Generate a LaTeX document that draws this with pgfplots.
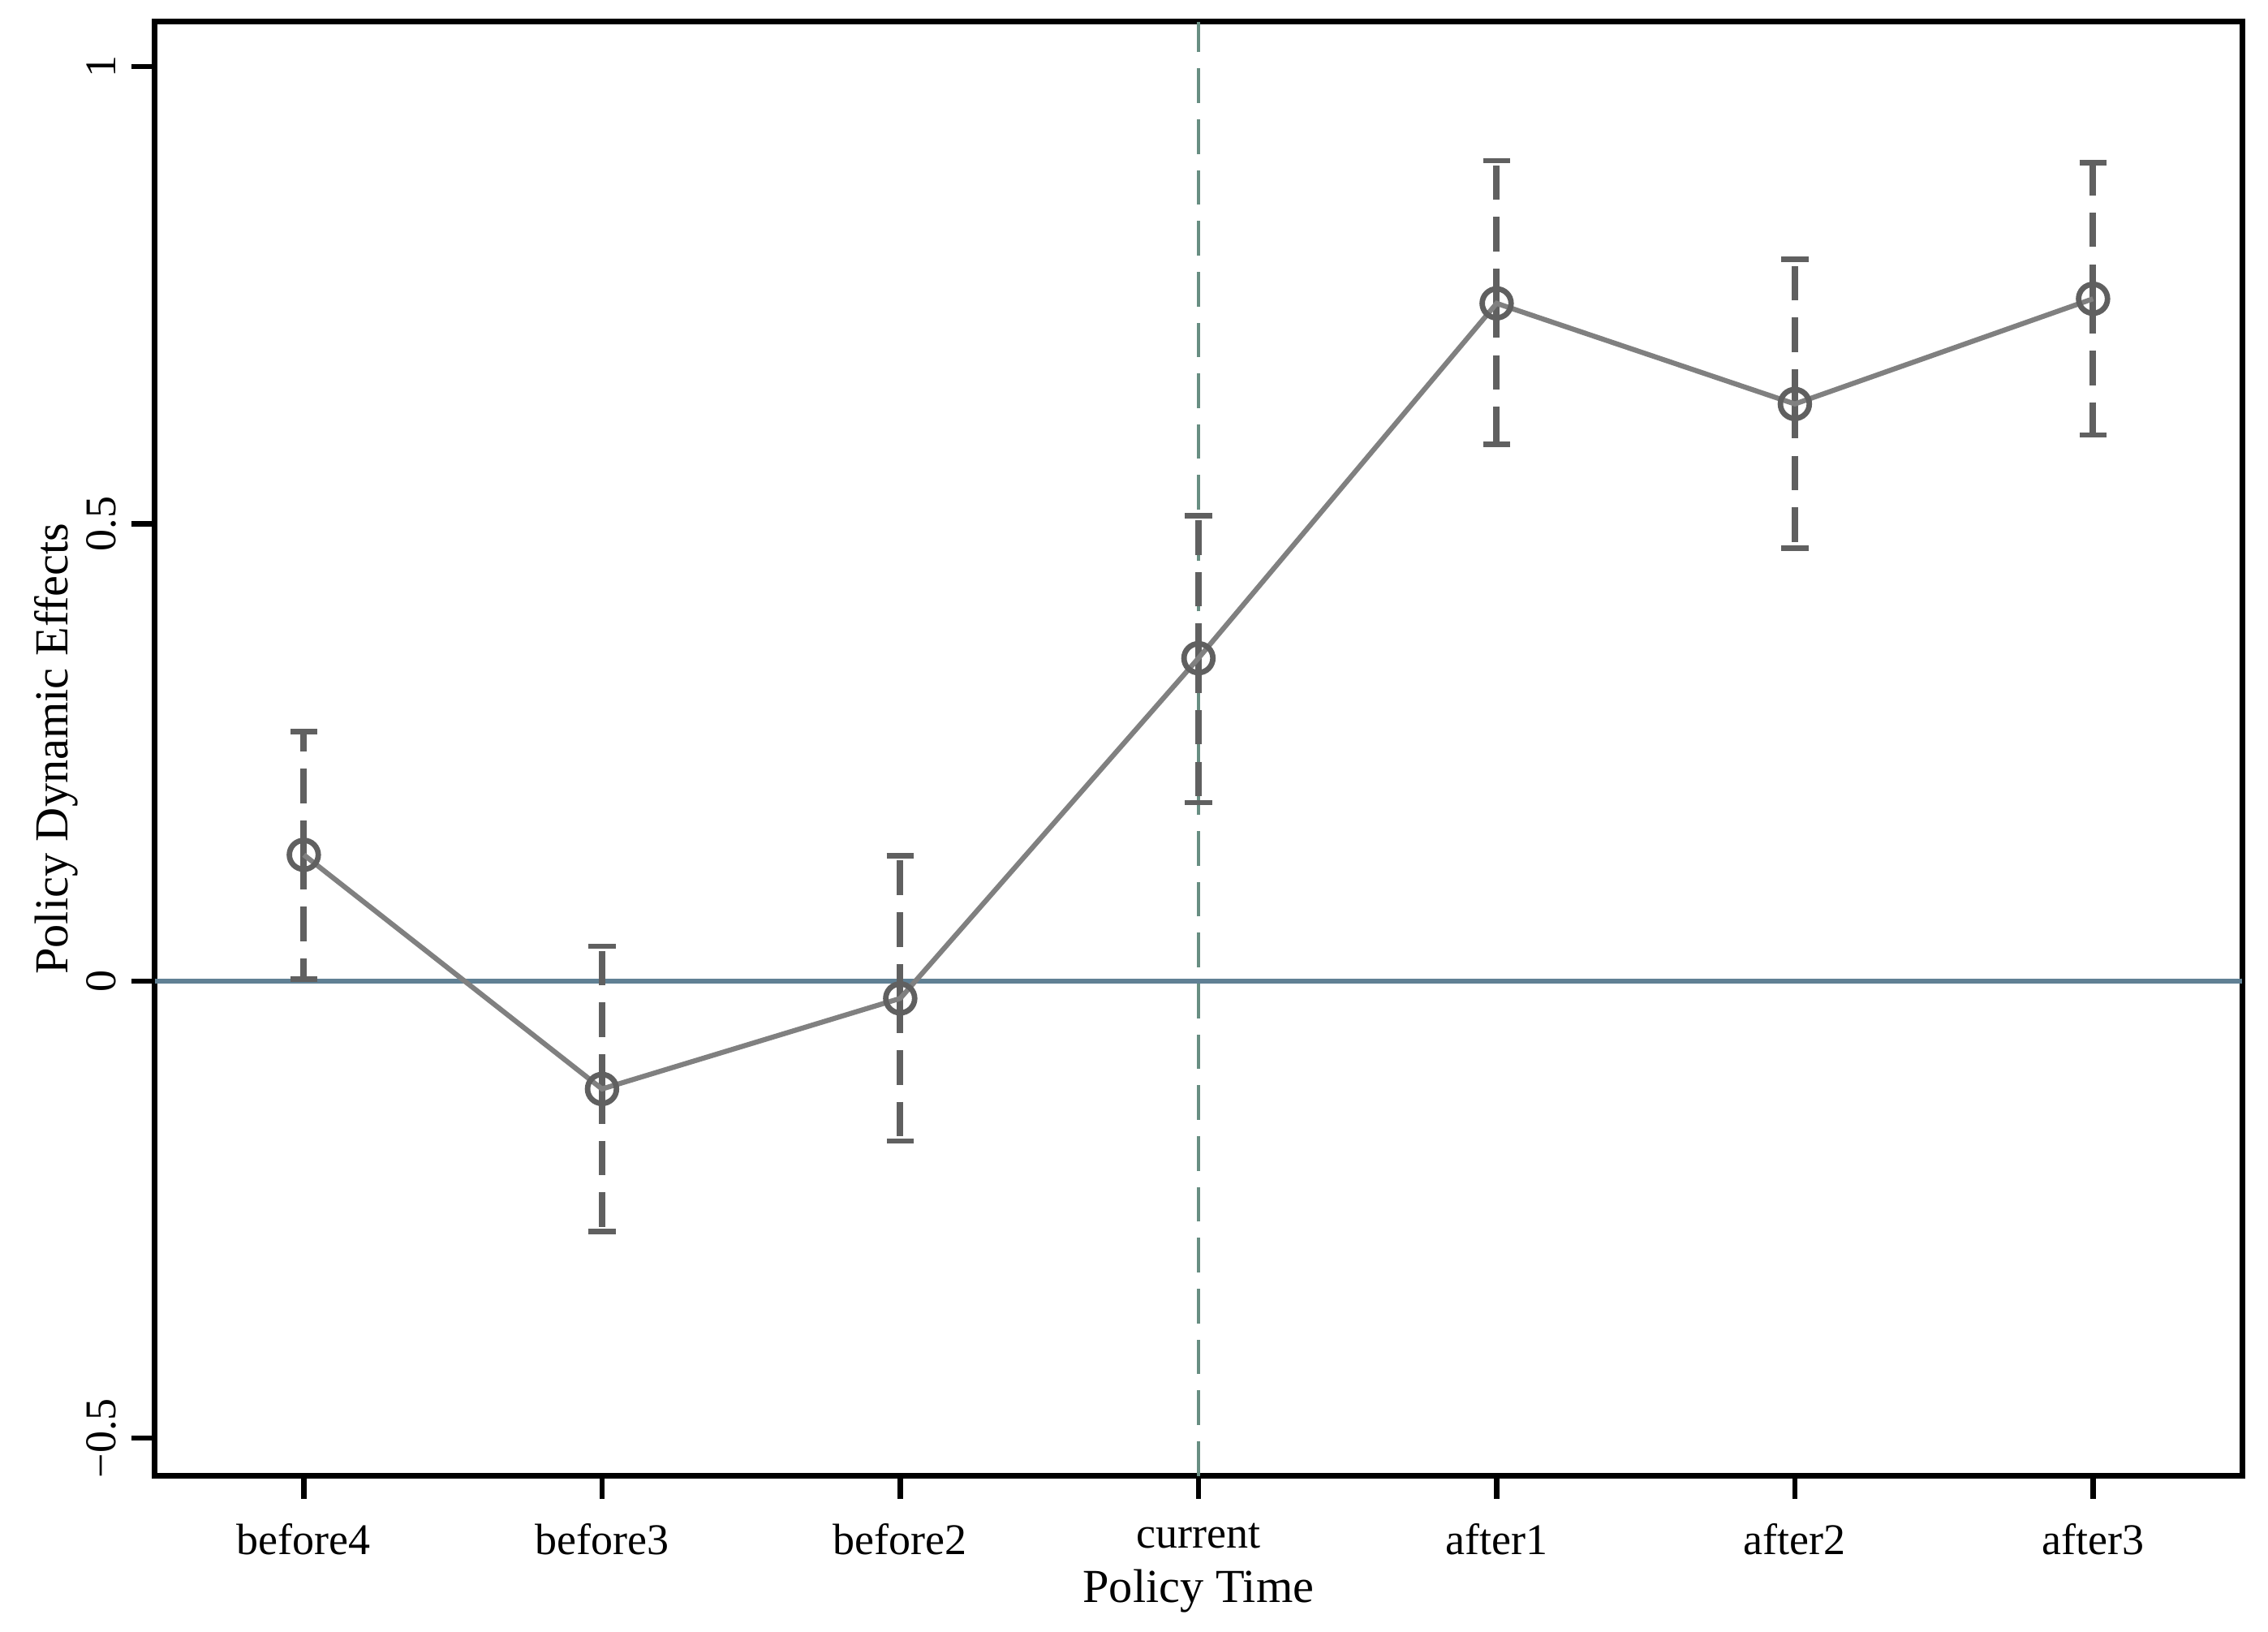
\documentclass[border=0pt]{standalone}
\usepackage{fontspec}
\setmainfont{Liberation Serif}
\usepackage{pgfplots}
\usepackage{pgfplotstable}
\pgfplotsset{compat=1.18}

\definecolor{errgray}{RGB}{96,96,96}
\definecolor{linegray}{RGB}{128,128,128}
\definecolor{zeroblue}{RGB}{96,128,148}
\definecolor{vteal}{RGB}{104,142,130}

% x: 0 before4 ... 6 after3; y estimate, ci low, ci high
\pgfplotstableread{
x  y       lo      hi
0  0.138   0.002   0.273
1  -0.118  -0.274  0.038
2  -0.019  -0.175  0.137
3  0.353   0.195   0.509
4  0.741   0.587   0.897
5  0.631   0.473   0.789
6  0.746   0.597   0.895
}\coefs

\begin{document}
\begin{tikzpicture}
\begin{axis}[
    name=ax,
    scale only axis,
    width=476.3pt, height=331.75pt,
    xmin=-0.5, xmax=6.5,
    ymin=-0.541, ymax=1.049,
    axis line style={line width=1.35pt},
    tick style={line width=1.15pt, black},
    tick align=outside,
    major tick length=5.3pt,
    xtick={0,...,6},
    xticklabels={before4,before3,before2,current,after1,after2,after3},
    xtick pos=bottom,
    ytick={-0.5,0,0.5,1},
    yticklabels={−0.5,0,0.5,1},
    ytick pos=left,
    yticklabel style={rotate=90, anchor=south},
    xticklabel style={yshift=-2pt},
    xlabel={Policy Time},
    ylabel={Policy Dynamic Effects},
    label style={font=\fontsize{10.8}{13}\selectfont},
    xlabel style={yshift=3.5pt},
    ylabel style={yshift=-5pt},
    font=\fontsize{10}{12}\selectfont,
    clip=false,
]
\addplot[zeroblue, line width=1.2pt] coordinates {(-0.5,0) (6.5,0)};
\addplot[vteal, line width=0.75pt, dash pattern=on 7.9pt off 3.7pt]
    coordinates {(3,-0.541) (3,1.049)};
\addplot[only marks, mark=*, mark size=0pt, draw=none,
    error bars/.cd, y dir=both, y explicit,
    error bar style={errgray, line width=1.5pt, dash pattern=on 7.9pt off 3.9pt},
    error mark options={errgray, solid, rotate=90, mark size=3.1pt, line width=1.25pt}]
    table[x=x, y=y, y error plus expr=\thisrow{hi}-\thisrow{y},
          y error minus expr=\thisrow{y}-\thisrow{lo}] {\coefs};
\addplot[only marks, mark=o, mark size=3.3pt,
    mark options={errgray, line width=1.25pt}] table[x=x, y=y] {\coefs};
\addplot[linegray, line width=1.15pt] table[x=x, y=y] {\coefs};
\end{axis}
\pgfresetboundingbox
\useasboundingbox ([shift={(-35.3pt,-35.5pt)}]ax.south west) rectangle ([shift={(5.9pt,4.95pt)}]ax.north east);
\end{tikzpicture}
\end{document}
